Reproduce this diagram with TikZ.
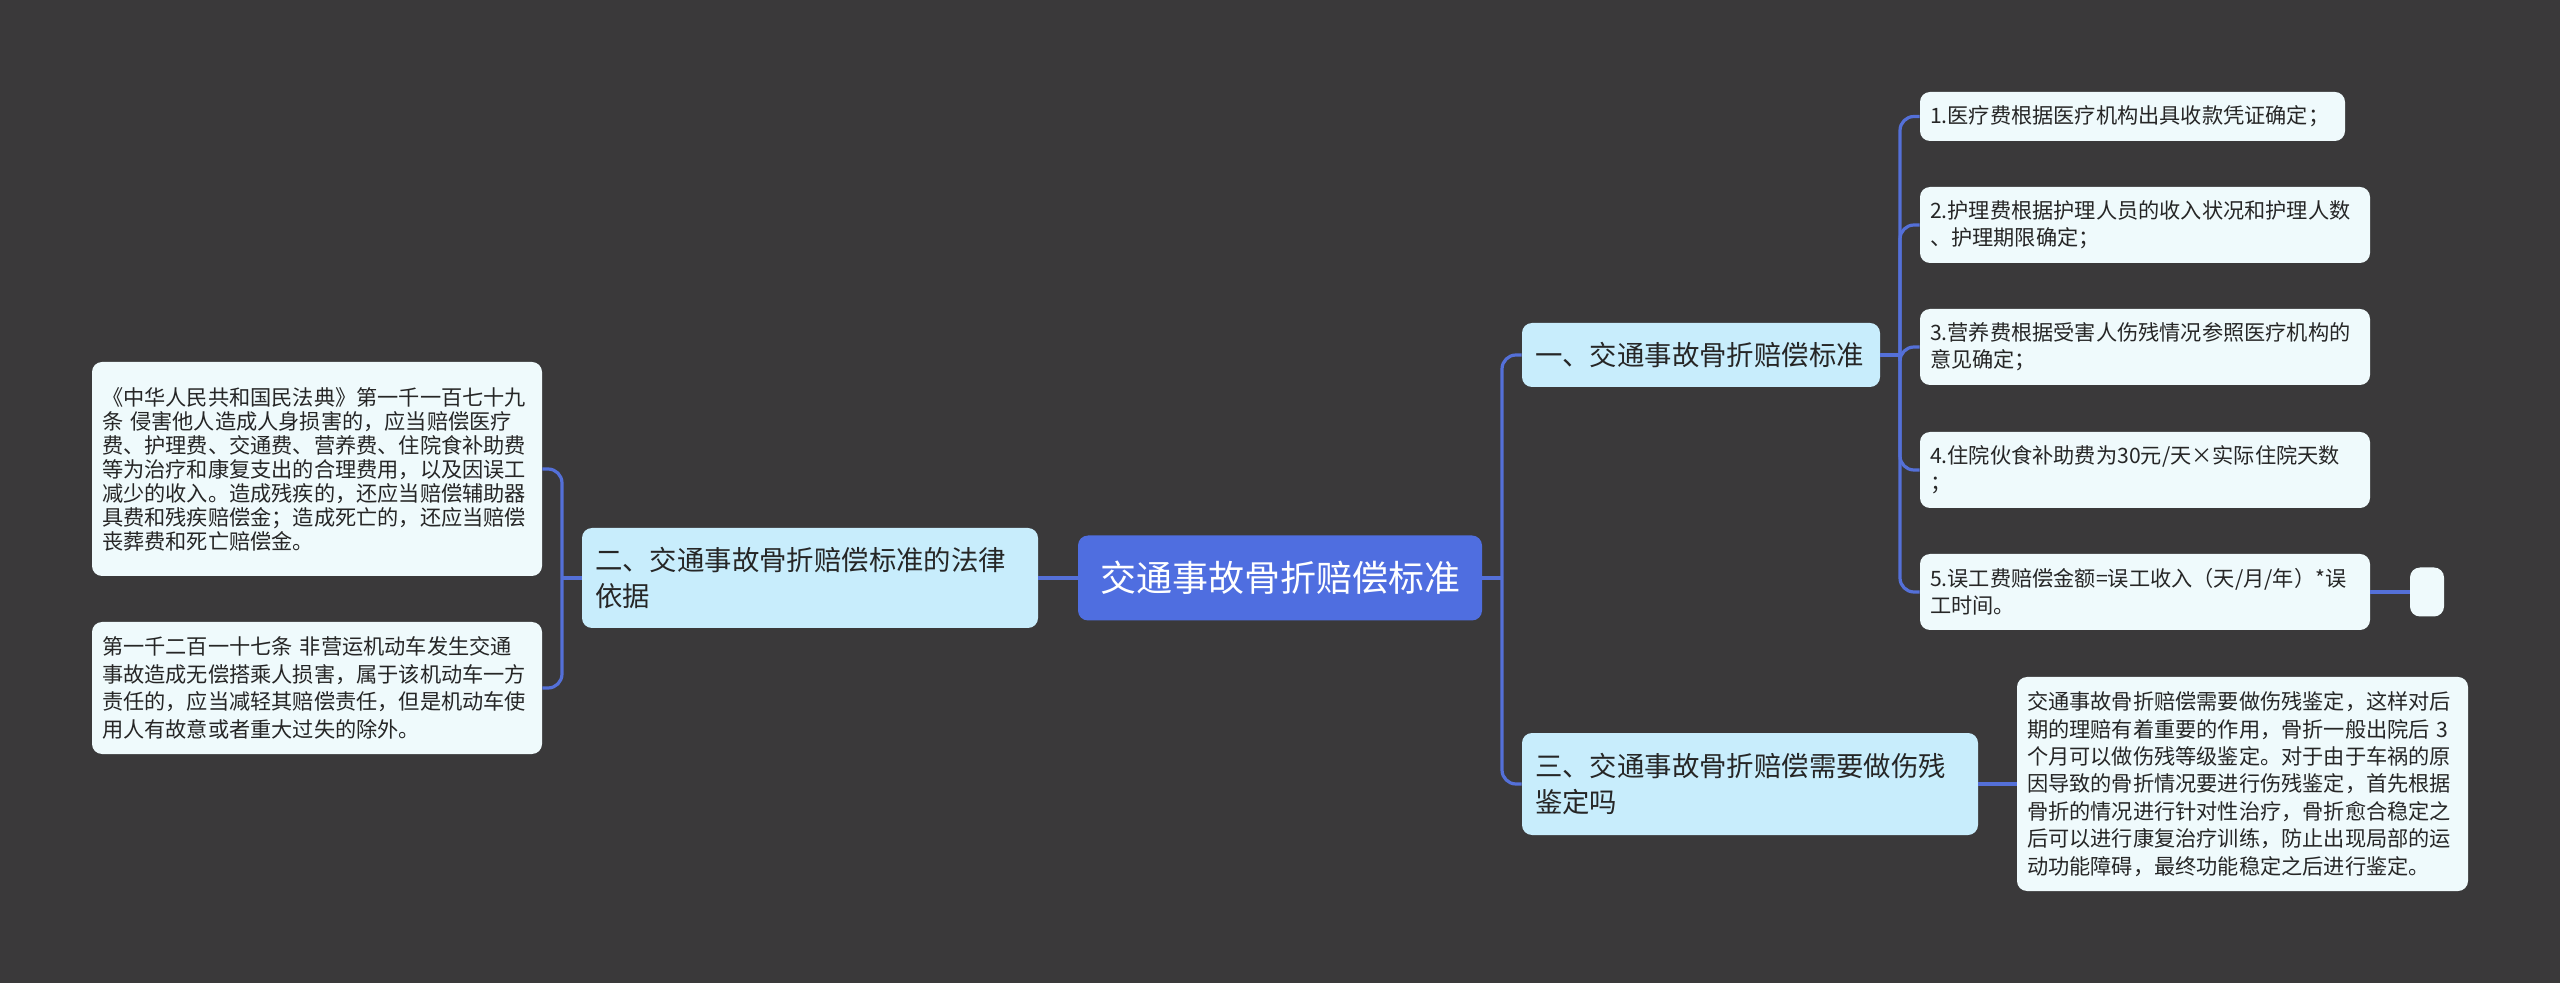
\documentclass[tikz,border=0pt]{standalone}
\usepackage{fontspec}
\setmainfont{Noto Sans CJK SC}
\definecolor{bgdark}{HTML}{3A393A}
\definecolor{rootblue}{HTML}{4F6EE0}
\definecolor{linkblue}{HTML}{5470D8}
\definecolor{branchcyan}{HTML}{C8EDFC}
\definecolor{leafwhite}{HTML}{EFFAFC}
\definecolor{textdark}{HTML}{262626}
\tikzset{
 root/.style={rectangle, rounded corners=5pt, fill=rootblue, text=white,
  font=\fontsize{18}{22}\selectfont, align=center, inner sep=0pt},
 branch/.style={rectangle, rounded corners=5pt, fill=branchcyan, text=textdark,
  font=\fontsize{13.7}{18}\selectfont, align=left, inner xsep=6.5pt, inner ysep=1pt},
 leaf/.style={rectangle, rounded corners=5pt, fill=leafwhite, text=textdark,
  font=\fontsize{10.6}{13.7}\selectfont, align=left, inner xsep=5pt, inner ysep=1pt},
 link/.style={draw=linkblue, line width=1.6pt, rounded corners=7pt},
}
\begin{document}
\begin{tikzpicture}[x=0.5pt,y=-0.5pt]
 \fill[bgdark] (0,0) rectangle (2560,983); %背景
 \useasboundingbox (0,0) rectangle (2560,983);
 % 中心
 \node[root, minimum width=202pt, minimum height=42.5pt] (root) at (1280,578) {交通事故骨折赔偿标准};
 % 左侧
 \node[branch, text width=215pt, minimum height=50pt] (lb) at (810,578) {二、交通事故骨折赔偿标准的法律\\依据};
 \node[leaf, text width=215pt, minimum height=107pt, font=\fontsize{10.6}{12}\selectfont] (l1) at (317,469)
  {《中华人民共和国民法典》第一千一百七十九\\条~侵害他人造成人身损害的，应当赔偿医疗\\费、护理费、交通费、营养费、住院食补助费\\等为治疗和康复支出的合理费用，以及因误工\\减少的收入。造成残疾的，还应当赔偿辅助器\\具费和残疾赔偿金；造成死亡的，还应当赔偿\\丧葬费和死亡赔偿金。};
 \node[leaf, text width=215pt, minimum height=66pt] (l2) at (317,688)
  {第一千二百一十七条~非营运机动车发生交通\\事故造成无偿搭乘人损害，属于该机动车一方\\责任的，应当减轻其赔偿责任，但是机动车使\\用人有故意或者重大过失的除外。};
 % 右侧
 \node[branch, text width=166pt, minimum height=32pt] (b1) at (1701,355) {一、交通事故骨折赔偿标准};
 \node[branch, text width=215pt, minimum height=51pt] (b3) at (1750,784) {三、交通事故骨折赔偿需要做伤残\\鉴定吗};
 \node[leaf, text width=202.5pt, minimum height=24.5pt] (s1) at (2132.5,116.5) {1.医疗费根据医疗机构出具收款凭证确定；};
 \node[leaf, text width=215pt, minimum height=38pt] (s2) at (2145,225) {2.护理费根据护理人员的收入状况和护理人数\\、护理期限确定；};
 \node[leaf, text width=215pt, minimum height=38pt] (s3) at (2145,347) {3.营养费根据受害人伤残情况参照医疗机构的\\意见确定；};
 \node[leaf, text width=215pt, minimum height=38pt] (s4) at (2145,470) {4.住院伙食补助费为30元/天×实际住院天数\\；};
 \node[leaf, text width=215pt, minimum height=38pt] (s5) at (2145,592) {5.误工费赔偿金额=误工收入（天/月/年）*误\\工时间。};
 \node[leaf, minimum width=17pt, minimum height=24.5pt, inner sep=0pt] (s6) at (2427,592) {};
 \node[leaf, text width=215.5pt, minimum height=107pt] (r3) at (2242.5,784)
  {交通事故骨折赔偿需要做伤残鉴定，这样对后\\期的理赔有着重要的作用，骨折一般出院后~3\\个月可以做伤残等级鉴定。对于由于车祸的原\\因导致的骨折情况要进行伤残鉴定，首先根据\\骨折的情况进行针对性治疗，骨折愈合稳定之\\后可以进行康复治疗训练，防止出现局部的运\\动功能障碍，最终功能稳定之后进行鉴定。};
 % 连线
 \coordinate (lbus) at (562,578); %左分叉
 \coordinate (rbus) at (1502,578); %右分叉
 \coordinate (sbus) at (1900,355); %一的分叉
 \draw[link] (root.west) -- (lb.east);
 \draw[link] (lb.west) -- (lbus);
 \draw[link] (lbus) |- (l1.east);
 \draw[link] (lbus) |- (l2.east);
 \draw[link] (root.east) -- (rbus);
 \draw[link] (rbus) |- (b1.west);
 \draw[link] (rbus) |- (b3.west);
 \draw[link] (b1.east) -- (sbus);
 \draw[link] (sbus) |- (s1.west);
 \draw[link] (sbus) |- (s2.west);
 \draw[link] (sbus) |- (s3.west);
 \draw[link] (sbus) |- (s4.west);
 \draw[link] (sbus) |- (s5.west);
 \draw[link] (s5.east) -- (s6.west);
 \draw[link] (b3.east) -- (r3.west);
\end{tikzpicture}
\end{document}
